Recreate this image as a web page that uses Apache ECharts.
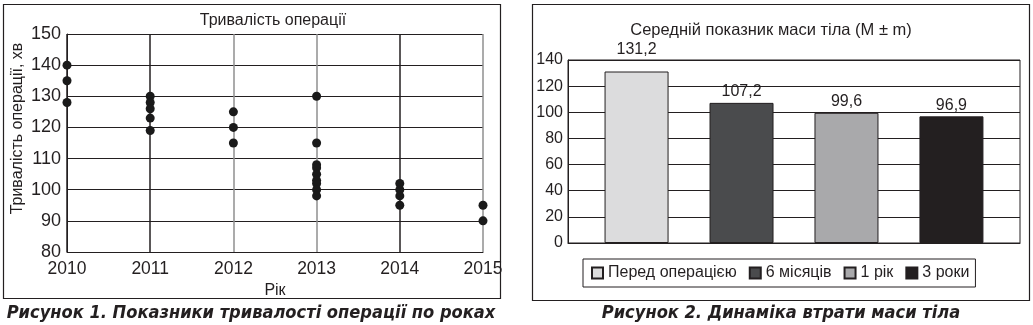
<!DOCTYPE html>
<html>
<head>
<meta charset="utf-8">
<script src="https://cdn.jsdelivr.net/npm/echarts@6/dist/echarts.min.js"></script>
<style>
  html, body { margin: 0; padding: 0; background: #fff; }
  #main { width: 1033px; height: 325px; }
</style>
</head>
<body>
<div id="main"></div>
<script>
// Figure 1: operation duration by year (minutes)
const years = [2010, 2011, 2012, 2013, 2014, 2015];
const durationByYear = {
  2010: [140, 135, 128],
  2011: [130, 128, 126, 123, 119],
  2012: [125, 120, 115],
  2013: [130, 115, 108, 107, 105, 103, 102, 100, 98],
  2014: [102, 100, 98, 95],
  2015: [95, 90]
};
const durationTicks = { min: 80, max: 150, step: 10 };

// Figure 2: mean body mass at each follow-up point
const massGroups = ['Перед операцією', '6 місяців', '1 рік', '3 роки'];
const massValues = [131.2, 107.2, 99.6, 96.9];
const massColors = ['#dcdcdd', '#4a4b4d', '#a9a9ab', '#231f20'];
const massTicks = { min: 0, max: 140, step: 20 };

const ink = '#231f20';
const sans = '"Liberation Sans", Arial, sans-serif';
const captionFont = 'italic bold 18.1px "DejaVu Sans Condensed", "DejaVu Sans", sans-serif';

const scatterPoints = [];
years.forEach(y => durationByYear[y].forEach(v => scatterPoints.push([y, v])));

const barSeries = massGroups.map((name, i) => ({
  name: name,
  type: 'bar',
  xAxisIndex: 1,
  yAxisIndex: 1,
  barWidth: 64,
  barGap: '64%',
  data: [massValues[i]],
  itemStyle: { color: massColors[i], borderColor: ink, borderWidth: 1 },
  label: {
    show: true,
    position: 'top',
    distance: i === 0 ? 14 : 3,
    color: ink,
    fontFamily: sans,
    fontSize: 16,
    formatter: p => String(p.value).replace('.', ',')
  }
}));

const chart = echarts.init(document.getElementById('main'), null, { renderer: 'canvas' });
chart.setOption({
  animation: false,
  backgroundColor: '#fff',
  title: [
    { text: 'Тривалість операції', left: 268, top: 8, textAlign: 'center',
      textStyle: { fontFamily: sans, fontWeight: 'normal', fontSize: 16, color: ink } },
    { text: 'Середній показник маси тіла (M ± m)', left: 766, top: 17, textAlign: 'center',
      textStyle: { fontFamily: sans, fontWeight: 'normal', fontSize: 16.5, color: ink } }
  ],
  legend: {
    data: massGroups,
    left: 583, top: 259,
    width: 393,
    padding: [6, 6, 6, 8],
    borderColor: ink,
    borderWidth: 1,
    itemWidth: 11,
    itemHeight: 11,
    itemGap: 12,
    icon: 'rect',
    selectedMode: false,
    textStyle: { fontFamily: sans, fontSize: 16, color: ink }
  },
  grid: [
    { left: 67, right: 550, top: 34, bottom: 73 },
    { left: 568, right: 13, top: 60, bottom: 82, show: true, borderColor: ink, borderWidth: 1 }
  ],
  xAxis: [
    {
      gridIndex: 0, type: 'value', min: 2010, max: 2015, interval: 1,
      name: 'Рік', nameLocation: 'middle', nameGap: 30,
      nameTextStyle: { fontFamily: sans, fontSize: 16, color: ink },
      axisLine: { show: true, lineStyle: { color: ink, width: 1 } },
      axisTick: { show: false },
      axisLabel: { fontFamily: sans, fontSize: 17.5, color: ink, margin: 8, formatter: v => String(v) },
      splitLine: { show: true, lineStyle: { color: [ink, ink, '#8f8f8f', '#8f8f8f', ink, '#8f8f8f'], width: 1.5 } }
    },
    {
      gridIndex: 1, type: 'category', data: [''],
      axisLine: { show: true, lineStyle: { color: ink } },
      axisTick: { show: false },
      axisLabel: { show: false }
    }
  ],
  yAxis: [
    {
      gridIndex: 0, type: 'value', min: durationTicks.min, max: durationTicks.max, interval: durationTicks.step,
      axisLine: { show: true, lineStyle: { color: ink, width: 1 } },
      axisTick: { show: false },
      axisLabel: { fontFamily: sans, fontSize: 18, color: ink, margin: 6 },
      splitLine: { show: true, lineStyle: { color: ink, width: 1.2 } }
    },
    {
      gridIndex: 1, type: 'value', min: massTicks.min, max: massTicks.max, interval: massTicks.step,
      axisLine: { show: true, lineStyle: { color: ink } },
      axisTick: { show: false },
      axisLabel: { fontFamily: sans, fontSize: 16, color: ink, margin: 5 },
      splitLine: { show: true, lineStyle: { color: ink, width: 1 } }
    }
  ],
  series: [
    {
      type: 'scatter',
      xAxisIndex: 0, yAxisIndex: 0,
      symbolSize: 9,
      itemStyle: { color: '#1a1a1a', opacity: 1 },
      data: scatterPoints,
      z: 5
    }
  ].concat(barSeries),
  graphic: [
    { type: 'rect', shape: { x: 3.5, y: 4.5, width: 497, height: 294 },
      style: { fill: null, stroke: ink, lineWidth: 1.2 }, silent: true },
    { type: 'rect', shape: { x: 532.5, y: 4.5, width: 497, height: 296 },
      style: { fill: null, stroke: ink, lineWidth: 1.2 }, silent: true },
    { type: 'text', x: 18, y: 128.5, rotation: Math.PI / 2,
      style: { text: 'Тривалість операції, хв', fill: ink, font: '16px ' + sans,
               textAlign: 'center', textVerticalAlign: 'middle' } },
    { type: 'text', x: 251, y: 313,
      style: { text: 'Рисунок 1. Показники тривалості операції по роках', fill: ink,
               font: captionFont, textAlign: 'center', textVerticalAlign: 'middle' } },
    { type: 'text', x: 781, y: 313,
      style: { text: 'Рисунок 2. Динаміка втрати маси тіла', fill: ink,
               font: captionFont, textAlign: 'center', textVerticalAlign: 'middle' } }
  ]
});
</script>
</body>
</html>
